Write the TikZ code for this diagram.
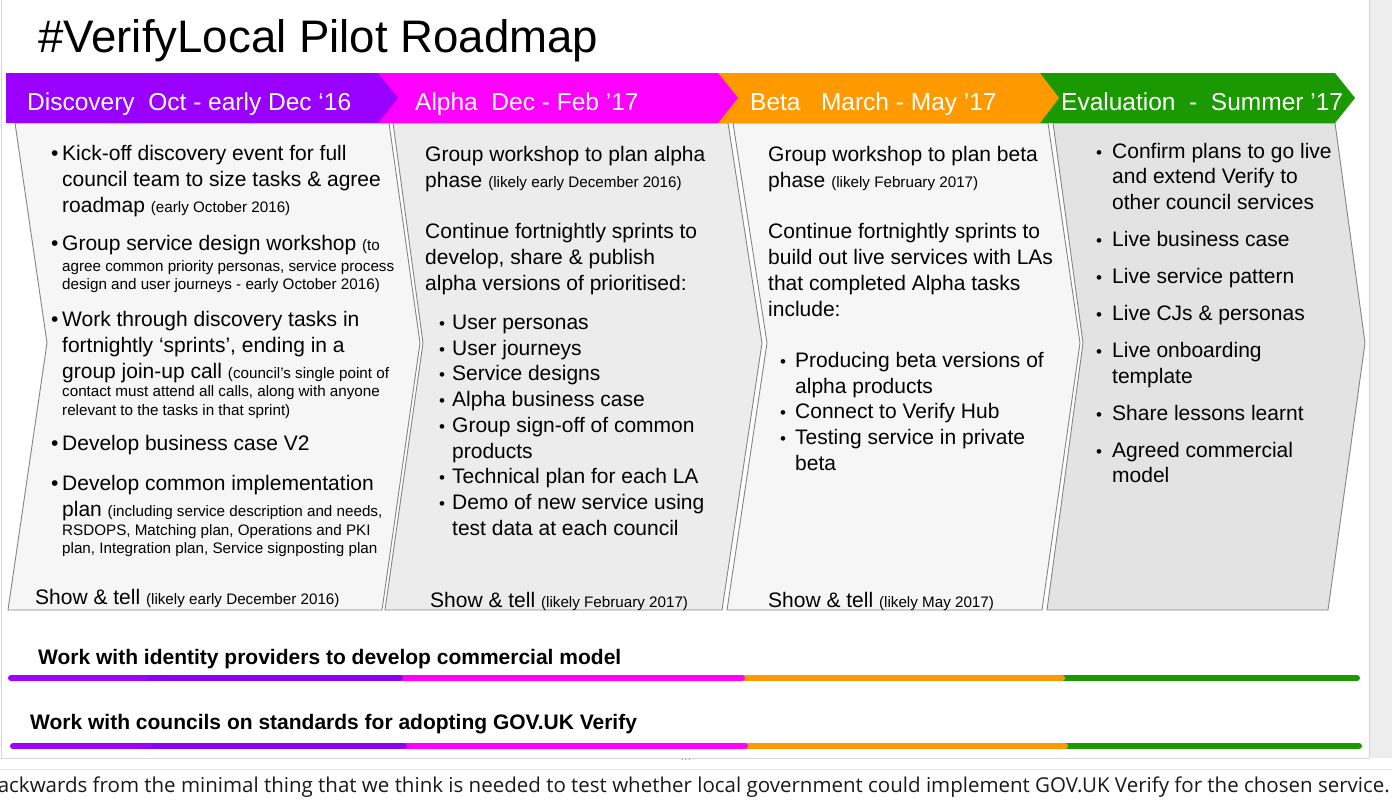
\documentclass[tikz,border=0pt]{standalone}
\usepackage{fontspec}
\setmainfont{Liberation Sans}
\newfontfamily\opensans{Open Sans}
\definecolor{cpurple}{HTML}{9900FF}
\definecolor{cpurpleL}{HTML}{A000FF}
\definecolor{cpurpleD}{HTML}{8E00F5}
\definecolor{cmagenta}{HTML}{FF00FF}
\definecolor{corange}{HTML}{FF9900}
\definecolor{cgreen}{HTML}{1A9900}
\definecolor{boxA}{HTML}{F6F6F6}
\definecolor{boxB}{HTML}{ECECEC}
\definecolor{boxC}{HTML}{E3E3E3}
\definecolor{edge}{HTML}{858585}
\definecolor{frameg}{HTML}{D6D6D6}
\definecolor{stripg}{HTML}{EDEDED}
\definecolor{lineg}{HTML}{E8E8E8}
\newcommand\smtxt[1]{{\fontsize{15.2}{18}\selectfont #1}}
\tikzset{
  bt/.style={anchor=base west, inner sep=0pt, font=\fontsize{21}{25}\selectfont},
  st/.style={anchor=base west, inner sep=0pt, font=\fontsize{15.2}{18}\selectfont},
  bul/.style={anchor=base west, inner sep=0pt, font=\fontsize{21}{25}\selectfont},
  sbul/.style={anchor=base west, inner sep=0pt, font=\fontsize{17}{20}\selectfont},
  hd/.style={anchor=base west, inner sep=0pt, text=white, font=\fontsize{24.5}{28}\selectfont},
  bwt/.style={anchor=base west, inner sep=0pt, font=\bfseries\fontsize{21}{24}\selectfont},
  panel/.style={draw=edge, line width=0.9pt},
  bar/.style={line width=6pt, line cap=round}
}
\begin{document}
\begin{tikzpicture}[x=1pt,y=-1pt]
\useasboundingbox (0,0) rectangle (1392,811);
\fill[white] (0,0) rectangle (1392,811);
% screenshot frame
\fill[stripg] (1369,0) rectangle (1392,758);
\draw[frameg] (1369,0) -- (1369,758);
\draw[frameg] (1,0) -- (1,758);
\draw[frameg] (0,758) -- (1369,758);
\draw[lineg] (0,769.5) -- (1392,769.5);
\node[inner sep=0pt, text=gray!70, font=\fontsize{13}{14}\selectfont] (handle) at (686,760) {...};

% title
\node[anchor=base west, inner sep=0pt, font=\fontsize{45.6}{54}\selectfont] (title) at (38,52) {\#VerifyLocal Pilot Roadmap};

% body panels
\draw[panel, fill=boxC] (1053,123) -- (1335,123) -- (1365,343) -- (1328,610) -- (1047,610) -- (1083,343) -- cycle;
\draw[panel, fill=boxA] (733,123) -- (1048,123) -- (1080,343) -- (1042,610) -- (727,610) -- (767,343) -- cycle;
\draw[panel, fill=boxB] (393,123) -- (728,123) -- (762,343) -- (722,610) -- (385,610) -- (423,343) -- cycle;
\draw[panel, fill=boxA] (15,123) -- (389,123) -- (420,343) -- (382,610) -- (8,610) -- (47,343) -- cycle;

% header chevrons
\fill[cgreen] (1040,73) -- (1335,73) -- (1355,98) -- (1335,123) -- (1040,123) -- cycle;
\fill[corange] (718,73) -- (1040,73) -- (1059,98) -- (1040,123) -- (718,123) -- cycle;
\fill[cmagenta] (378,73) -- (718,73) -- (738,98) -- (718,123) -- (378,123) -- cycle;
\fill[cpurple] (6,73) -- (378,73) -- (398,98) -- (378,123) -- (6,123) -- cycle;

\node[hd] (h1) at (27,110) {Discovery\ \ Oct - early Dec ‘16};
\node[hd] (h2) at (415,110) {Alpha\ \ Dec - Feb ’17};
\node[hd] (h3) at (750,110) {Beta\ \ \ March - May ’17};
\node[hd] (h4) at (1061,110) {Evaluation\ \ -\ \ Summer ’17};

% box 1
\node[bul] (b1d1) at (51,160) {•};
\node[bt] (b1a1) at (62,160) {Kick-off discovery event for full};
\node[bt] (b1a2) at (62,186) {council team to size tasks \& agree};
\node[bt] (b1a3) at (62,212) {roadmap \smtxt{(early October 2016)}};
\node[bul] (b1d2) at (51,250) {•};
\node[bt] (b1b1) at (62,250) {Group service design workshop \smtxt{(to}};
\node[st] (b1b2) at (62,271) {agree common priority personas, service process};
\node[st] (b1b3) at (62,289) {design and user journeys - early October 2016)};
\node[bul] (b1d3) at (51,326) {•};
\node[bt] (b1c1) at (62,326) {Work through discovery tasks in};
\node[bt] (b1c2) at (62,352) {fortnightly ‘sprints’, ending in a};
\node[bt] (b1c3) at (62,378) {group join-up call \smtxt{(council’s single point of}};
\node[st] (b1c4) at (62,396) {contact must attend all calls, along with anyone};
\node[st] (b1c5) at (62,415) {relevant to the tasks in that sprint)};
\node[bul] (b1d4) at (51,450) {•};
\node[bt] (b1e1) at (62,450) {Develop business case V2};
\node[bul] (b1d5) at (51,490) {•};
\node[bt] (b1f1) at (62,490) {Develop common implementation};
\node[bt] (b1f2) at (62,516) {plan \smtxt{(including service description and needs,}};
\node[st] (b1f3) at (62,535) {RSDOPS, Matching plan, Operations and PKI};
\node[st] (b1f4) at (62,553) {plan, Integration plan, Service signposting plan};
\node[bt] (b1g) at (35,604) {Show \& tell \smtxt{(likely early December 2016)}};

% box 2
\node[bt] (b2a1) at (425,161) {Group workshop to plan alpha};
\node[bt] (b2a2) at (425,187) {phase \smtxt{(likely early December 2016)}};
\node[bt] (b2b1) at (425,238) {Continue fortnightly sprints to};
\node[bt] (b2b2) at (425,264) {develop, share \& publish};
\node[bt] (b2b3) at (425,290) {alpha versions of prioritised:};
\node[sbul] (b2d1) at (439,329) {•};
\node[bt] (b2c1) at (452,329) {User personas};
\node[sbul] (b2d2) at (439,355) {•};
\node[bt] (b2c2) at (452,355) {User journeys};
\node[sbul] (b2d3) at (439,380) {•};
\node[bt] (b2c3) at (452,380) {Service designs};
\node[sbul] (b2d4) at (439,406) {•};
\node[bt] (b2c4) at (452,406) {Alpha business case};
\node[sbul] (b2d5) at (439,432) {•};
\node[bt] (b2c5) at (452,432) {Group sign-off of common};
\node[bt] (b2c6) at (452,458) {products};
\node[sbul] (b2d6) at (439,483) {•};
\node[bt] (b2c7) at (452,483) {Technical plan for each LA};
\node[sbul] (b2d7) at (439,509) {•};
\node[bt] (b2c8) at (452,509) {Demo of new service using};
\node[bt] (b2c9) at (452,535) {test data at each council};
\node[bt] (b2g) at (430,607) {Show \& tell \smtxt{(likely February 2017)}};

% box 3
\node[bt] (b3a1) at (768,161) {Group workshop to plan beta};
\node[bt] (b3a2) at (768,187) {phase \smtxt{(likely February 2017)}};
\node[bt] (b3b1) at (768,238) {Continue fortnightly sprints to};
\node[bt] (b3b2) at (768,264) {build out live services with LAs};
\node[bt] (b3b3) at (768,290) {that completed Alpha tasks};
\node[bt] (b3b4) at (768,316) {include:};
\node[sbul] (b3d1) at (780,367) {•};
\node[bt] (b3c1) at (795,367) {Producing beta versions of};
\node[bt] (b3c2) at (795,393) {alpha products};
\node[sbul] (b3d2) at (780,418) {•};
\node[bt] (b3c3) at (795,418) {Connect to Verify Hub};
\node[sbul] (b3d3) at (780,444) {•};
\node[bt] (b3c4) at (795,444) {Testing service in private};
\node[bt] (b3c5) at (795,470) {beta};
\node[bt] (b3g) at (768,607) {Show \& tell \smtxt{(likely May 2017)}};

% box 4
\node[sbul] (b4d1) at (1096,158) {•};
\node[bt] (b4a1) at (1112,158) {Confirm plans to go live};
\node[bt] (b4a2) at (1112,183) {and extend Verify to};
\node[bt] (b4a3) at (1112,209) {other council services};
\node[sbul] (b4d2) at (1096,246) {•};
\node[bt] (b4b1) at (1112,246) {Live business case};
\node[sbul] (b4d3) at (1096,283) {•};
\node[bt] (b4c1) at (1112,283) {Live service pattern};
\node[sbul] (b4d4) at (1096,320) {•};
\node[bt] (b4e1) at (1112,320) {Live CJs \& personas};
\node[sbul] (b4d5) at (1096,357) {•};
\node[bt] (b4f1) at (1112,357) {Live onboarding};
\node[bt] (b4f2) at (1112,383) {template};
\node[sbul] (b4d6) at (1096,420) {•};
\node[bt] (b4g1) at (1112,420) {Share lessons learnt};
\node[sbul] (b4d7) at (1096,457) {•};
\node[bt] (b4h1) at (1112,457) {Agreed commercial};
\node[bt] (b4h2) at (1112,482) {model};

% workstreams
\node[bwt] (w1) at (38,664) {Work with identity providers to develop commercial model};
\draw[bar, cgreen] (1062,678) -- (1357,678);
\draw[bar, corange] (742,678) -- (1062,678);
\draw[bar, cmagenta] (400,678) -- (742,678);
\draw[bar, cpurpleD] (145,678) -- (400,678);
\draw[bar, cpurpleL] (11,678) -- (145,678);

\node[bwt] (w2) at (30,729) {Work with councils on standards for adopting GOV.UK Verify};
\draw[bar, cgreen] (1065,746) -- (1359,746);
\draw[bar, corange] (745,746) -- (1065,746);
\draw[bar, cmagenta] (404,746) -- (745,746);
\draw[bar, cpurpleD] (149,746) -- (404,746);
\draw[bar, cpurpleL] (13,746) -- (149,746);

% page text below
\node[anchor=base east, inner sep=0pt, text=black!90, font=\opensans\fontsize{20.5}{24}\selectfont] (foot) at (1390,792) {ackwards from the minimal thing that we think is needed to test whether local government could implement GOV.UK Verify for the chosen service.};
\end{tikzpicture}
\end{document}
